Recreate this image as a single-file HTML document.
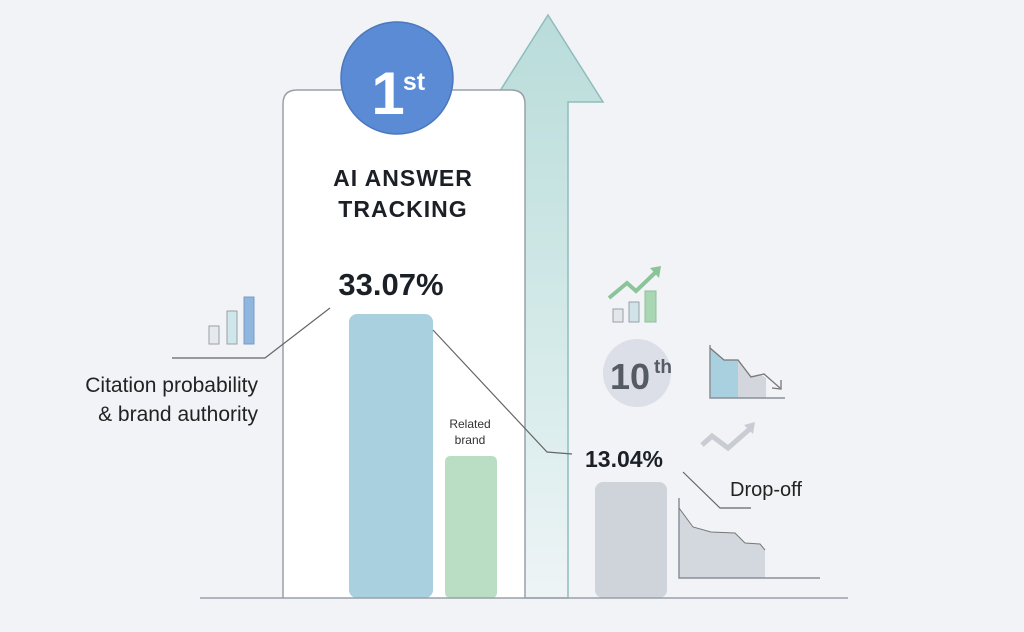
<!DOCTYPE html>
<html><head><style>
body{margin:0;width:1024px;height:627px;overflow:hidden;background:#f1f3f6;font-family:"Liberation Sans",sans-serif;}
</style></head><body>
<svg width="1024" height="627" viewBox="0 0 1024 627" xmlns="http://www.w3.org/2000/svg">
<defs>
<linearGradient id="ag" x1="0" y1="0" x2="0" y2="1">
<stop offset="0" stop-color="#b9dcda"/><stop offset="0.6" stop-color="#d6ebea"/><stop offset="1" stop-color="#eef4f6"/>
</linearGradient>
</defs>
<rect width="1024" height="627" fill="#f1f3f6"/>
<polygon points="548,15 603,102 568,102 568,598 523,598 523,102 493,102" fill="url(#ag)" stroke="#8fbcbc" stroke-width="1.5"/>
<path d="M283,598 V104 Q283,90 297,90 H511 Q525,90 525,104 V598" fill="#ffffff" stroke="#9aa0a8" stroke-width="1.5"/>
<circle cx="397" cy="78" r="56" fill="#5a8bd4" stroke="#4b77bd" stroke-width="1.5"/>
<text x="388" y="114" font-size="60" font-weight="bold" fill="#fff" text-anchor="middle">1</text>
<text x="414" y="90" font-size="25" font-weight="bold" fill="#fff" text-anchor="middle">st</text>
<text x="403" y="186" font-size="23" font-weight="bold" fill="#1b1f26" text-anchor="middle" letter-spacing="1">AI ANSWER</text>
<text x="403" y="217" font-size="23" font-weight="bold" fill="#1b1f26" text-anchor="middle" letter-spacing="1">TRACKING</text>
<text x="391" y="295" font-size="31" font-weight="bold" fill="#1b1f26" text-anchor="middle">33.07%</text>
<rect x="349" y="314" width="84" height="284" rx="8" fill="#a9d0de"/>
<rect x="445" y="456" width="52" height="142" rx="5" fill="#b9dec4"/>
<rect x="595" y="482" width="72" height="116" rx="8" fill="#cfd3da"/>
<text x="470" y="428" font-size="12" fill="#333" text-anchor="middle">Related</text>
<text x="470" y="444" font-size="12" fill="#333" text-anchor="middle">brand</text>
<line x1="200" y1="598" x2="848" y2="598" stroke="#9aa0a8" stroke-width="1.5"/>
<polyline points="172,358 265,358 330,308" fill="none" stroke="#666" stroke-width="1.2"/>
<polyline points="433,330 547,452 572,454" fill="none" stroke="#666" stroke-width="1.2"/>
<polyline points="683,472 720,508 751,508" fill="none" stroke="#666" stroke-width="1.2"/>
<text x="258" y="392" font-size="21" fill="#222" text-anchor="end">Citation probability</text>
<text x="258" y="421" font-size="21" fill="#222" text-anchor="end">&amp; brand authority</text>
<text x="624" y="467" font-size="23" font-weight="bold" fill="#1b1f26" text-anchor="middle">13.04%</text>
<text x="730" y="496" font-size="20" fill="#222">Drop-off</text>
<rect x="209" y="326" width="10" height="18" fill="#e6e9ee" stroke="#9aa0a8"/>
<rect x="227" y="311" width="10" height="33" fill="#cfe6ea" stroke="#9aa0a8"/>
<rect x="244" y="297" width="10" height="47" fill="#8fb6dc" stroke="#7a9cc4"/>
<rect x="613" y="309" width="10" height="13" fill="#e3e6ea" stroke="#9aa0a8"/>
<rect x="629" y="302" width="10" height="20" fill="#cfe3e8" stroke="#9aa0a8"/>
<rect x="645" y="291" width="11" height="31" fill="#a9d7b4" stroke="#8fbf9a"/>
<polyline points="609,298 627,283 636,291 658,270" fill="none" stroke="#8cc49a" stroke-width="4"/>
<polygon points="650,268 661,266 659,278" fill="#8cc49a"/>
<circle cx="637" cy="373" r="34" fill="#dcdfe8"/>
<text x="630" y="389" font-size="36" font-weight="bold" fill="#555b63" text-anchor="middle">10</text>
<text x="663" y="373" font-size="19" font-weight="bold" fill="#555b63" text-anchor="middle">th</text>
<polygon points="710,348 724,360 738,360 750,376 750,398 710,398" fill="#a9d0de"/>
<polygon points="738,360 750,376 760,374 766,378 766,398 738,398" fill="#d3d6dc"/>
<polyline points="710,345 710,398 785,398" fill="none" stroke="#8a9098" stroke-width="1.5"/>
<polyline points="710,348 724,360 738,360 751,377 764,374 780,388" fill="none" stroke="#777" stroke-width="1.3"/>
<polyline points="772,388 781,389 781,380" fill="none" stroke="#777" stroke-width="1.3"/>
<polyline points="702,445 712,436 728,448 752,427" fill="none" stroke="#c9ccd2" stroke-width="5"/>
<polygon points="744,425 755,422 753,434" fill="#c9ccd2"/>
<polygon points="679,508 693,527 711,532 735,533 745,543 760,544 765,550 765,578 679,578" fill="#d3d7de"/>
<polyline points="679,498 679,578 820,578" fill="none" stroke="#8a9098" stroke-width="1.5"/>
<polyline points="679,508 693,527 711,532 735,533 745,543 760,544 765,550" fill="none" stroke="#777" stroke-width="1"/>
</svg>
</body></html>
